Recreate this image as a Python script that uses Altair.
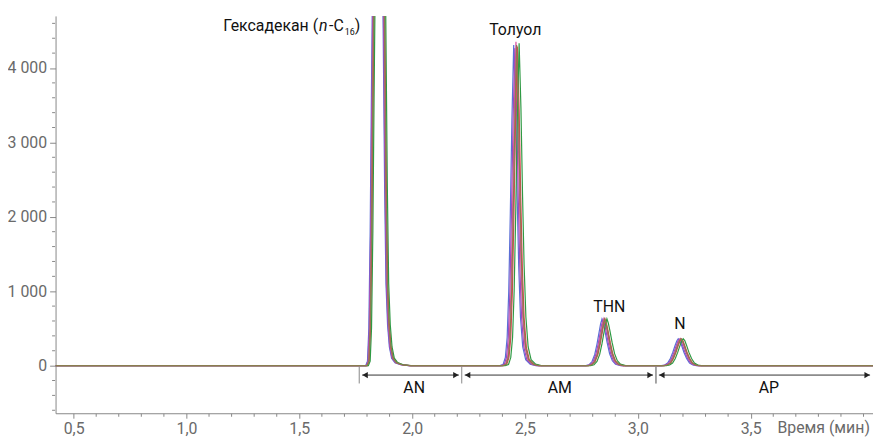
import altair as alt
import pandas as pd

# ---- axis ranges / ticks ----
x_domain = [0.42, 4.042]
y_domain = [-640, 4700]
x_major = [0.5, 1.0, 1.5, 2.0, 2.5, 3.0, 3.5]
x_minor = [0.6, 0.7, 0.8, 0.9, 1.1, 1.2, 1.3, 1.4, 1.6, 1.7, 1.8, 1.9,
           2.1, 2.2, 2.3, 2.4, 2.6, 2.7, 2.8, 2.9, 3.1, 3.2, 3.3, 3.4,
           3.6, 3.7, 3.8, 3.9, 4.0]
y_major = [0, 1000, 2000, 3000, 4000]
y_minor = [-600, -400, -200, 200, 400, 600, 800, 1200, 1400, 1600, 1800,
           2200, 2400, 2600, 2800, 3200, 3400, 3600, 3800, 4200, 4400, 4600]

# ---- single chromatogram (reference trace), one list pair per peak ----
baseline_t = [0.42, 4.06]
baseline_v = [0, 0]

hexa_t = [1.780, 1.800, 1.808, 1.814, 1.820, 1.825, 1.829, 1.838, 1.846, 1.853,
          1.860, 1.868, 1.877, 1.884, 1.890, 1.897, 1.905, 1.915, 1.930, 1.955, 1.990]
hexa_v = [0, 0, 60, 500, 1800, 3500, 4700, 12000, 22000, 28000,
          22000, 12000, 4700, 2400, 1100, 550, 250, 100, 40, 12, 0]

tol_t = [2.400, 2.415, 2.425, 2.433, 2.440, 2.447, 2.454, 2.462, 2.470, 2.477,
         2.484, 2.492, 2.502, 2.515, 2.535, 2.560]
tol_v = [0, 15, 110, 380, 1000, 2050, 3300, 4310, 3450, 2300,
         1350, 650, 250, 80, 20, 0]

thn_t = [2.780, 2.795, 2.808, 2.820, 2.830, 2.840, 2.846, 2.852, 2.858, 2.865,
         2.875, 2.886, 2.898, 2.912, 2.935]
thn_v = [0, 12, 55, 150, 290, 460, 560, 625, 570, 470, 310, 160, 65, 20, 0]

n_t = [3.115, 3.130, 3.143, 3.155, 3.166, 3.176, 3.184, 3.190, 3.197, 3.205,
       3.215, 3.227, 3.240, 3.255, 3.270]
n_v = [0, 8, 35, 95, 180, 270, 335, 360, 335, 270, 180, 95, 35, 8, 0]

# ---- overlaid runs: colour, retention-time shift of each peak, response ----
runs = ["r1", "r2", "r3", "r4", "r5", "r6"]
run_colors = ["#5b6fd6", "#9b4dbf", "#d9509f", "#e03c4c", "#2f9a44", "#8a7d4f"]
hexa_shift = [-0.006, -0.004, -0.001, 0.002, 0.006, 0.000]
tol_shift = [-0.012, -0.007, -0.002, 0.004, 0.012, 0.001]
thn_shift = [-0.011, -0.006, -0.002, 0.003, 0.011, 0.001]
n_shift = [-0.011, -0.006, -0.002, 0.003, 0.011, 0.001]
run_scale = [1.000, 0.990, 1.010, 0.995, 1.005, 1.000]

# ---- annotations ----
peak_labels = ["Толуол", "THN", "N"]
peak_label_t = [2.457, 2.874, 3.186]
peak_label_v = [4507, 785, 558]

hexa_parts = ["Гексадекан (", "n", "-C", "16", ")"]
hexa_part_t = [1.5833, 1.5877, 1.6316, 1.7018, 1.7457]
hexa_part_v = [4567, 4567, 4567, 4480, 4567]

region_labels = ["AN", "AM", "AP"]
region_label_t = [2.009, 2.654, 3.581]
region_start = [1.7655, 2.2198, 3.0803]
region_end = [2.2198, 3.0803, 4.042]
region_label_v = -307
arrow_v = -127
sep_top = -13
sep_bottom = -240

# ---- build tables ----
peak_sets = [(hexa_t, hexa_v, hexa_shift), (tol_t, tol_v, tol_shift),
             (thn_t, thn_v, thn_shift), (n_t, n_v, n_shift)]
rows = []
for i, (r, k) in enumerate(zip(runs, run_scale)):
    for t, v in zip(baseline_t, baseline_v):
        rows.append({"run": r, "t": t, "v": v})
    for pt, pv, ps in peak_sets:
        for t, v in zip(pt, pv):
            rows.append({"run": r, "t": t + ps[i], "v": v * k})
df = pd.DataFrame(rows).sort_values(["run", "t"])

FONT = "Roboto"
AX_COL = "#6a6a6a"
LINE_COL = "#888888"

x_axis = alt.Axis(
    values=x_major,
    labelExpr="replace(format(datum.value, '.1f'), '.', ',')",
    tickSize=5, labelOverlap=False, labelFlush=False, grid=False,
    labelFont=FONT, labelFontSize=16, labelColor=AX_COL, labelPadding=2,
    domainColor=LINE_COL, tickColor=LINE_COL,
    title="Время (мин)", titleFont=FONT, titleFontSize=16, titleFontWeight="normal",
    titleColor=AX_COL, titleX=728, titleY=6, titleAlign="left", titleBaseline="top",
)
y_axis = alt.Axis(
    values=y_major,
    labelExpr="replace(format(datum.value, ',d'), ',', ' ')",
    tickSize=6, labelOverlap=False, labelFlush=False, grid=False,
    labelFont=FONT, labelFontSize=16, labelColor=AX_COL, labelPadding=3,
    domainColor=LINE_COL, tickColor=LINE_COL, title=None,
)

xs = alt.Scale(domain=x_domain, nice=False, zero=False)
ys = alt.Scale(domain=y_domain, nice=False, zero=False)

lines = alt.Chart(df).mark_line(clip=True, strokeWidth=1.2).encode(
    x=alt.X("t:Q", scale=xs, axis=x_axis),
    y=alt.Y("v:Q", scale=ys, axis=y_axis),
    color=alt.Color("run:N", scale=alt.Scale(domain=runs, range=run_colors), legend=None),
)

# minor ticks
xminor_df = pd.DataFrame({"t": x_minor})
x_minor_ticks = alt.Chart(xminor_df).mark_tick(
    orient="vertical", size=3, thickness=1, color=LINE_COL, yOffset=2, opacity=1
).encode(x="t:Q", y=alt.datum(y_domain[0]))
yminor_df = pd.DataFrame({"v": y_minor})
y_minor_ticks = alt.Chart(yminor_df).mark_tick(
    orient="horizontal", size=3, thickness=1, color=LINE_COL, xOffset=-2, opacity=1
).encode(x=alt.datum(x_domain[0]), y="v:Q")

sep_df = pd.DataFrame({"t": region_start + [region_end[1]], "a": sep_top, "b": sep_bottom})
seps = alt.Chart(sep_df).mark_rule(color=LINE_COL, strokeWidth=1).encode(
    x="t:Q", y="a:Q", y2="b:Q")

arr_df = pd.DataFrame({"s": [v + 0.013 for v in region_start],
                       "e": [v - 0.013 for v in region_end], "y": arrow_v})
arrows = alt.Chart(arr_df).mark_rule(color="#333333", strokeWidth=1).encode(
    x="s:Q", x2="e:Q", y="y:Q")

lh_df = pd.DataFrame({"t": [v + 0.026 for v in region_start], "y": arrow_v})
rh_df = pd.DataFrame({"t": [v - 0.026 for v in region_end], "y": arrow_v})
left_heads = alt.Chart(lh_df).mark_point(shape="triangle-left", filled=True, size=40,
                                         color="#222222", opacity=1).encode(x="t:Q", y="y:Q")
right_heads = alt.Chart(rh_df).mark_point(shape="triangle-right", filled=True, size=40,
                                          color="#222222", opacity=1).encode(x="t:Q", y="y:Q")

reg_df = pd.DataFrame({"t": region_label_t, "v": region_label_v, "txt": region_labels})
reg_text = alt.Chart(reg_df).mark_text(font=FONT, fontSize=16, color="#111111").encode(
    x="t:Q", y="v:Q", text="txt:N")

pk_df = pd.DataFrame({"t": peak_label_t, "v": peak_label_v, "txt": peak_labels})
pk_text = alt.Chart(pk_df).mark_text(font=FONT, fontSize=16, color="#111111").encode(
    x="t:Q", y="v:Q", text="txt:N")

hp = pd.DataFrame({"t": hexa_part_t, "v": hexa_part_v, "txt": hexa_parts})
h0 = alt.Chart(hp.iloc[[0]]).mark_text(font=FONT, fontSize=16, color="#111111", align="right").encode(
    x="t:Q", y="v:Q", text="txt:N")
h1 = alt.Chart(hp.iloc[[1]]).mark_text(font=FONT, fontSize=16, color="#111111", align="left",
                                       fontStyle="italic").encode(x="t:Q", y="v:Q", text="txt:N")
h2 = alt.Chart(hp.iloc[[2, 4]]).mark_text(font=FONT, fontSize=16, color="#111111", align="left").encode(
    x="t:Q", y="v:Q", text="txt:N")
h3 = alt.Chart(hp.iloc[[3]]).mark_text(font=FONT, fontSize=9, color="#111111", align="left").encode(
    x="t:Q", y="v:Q", text="txt:N")

chart = alt.layer(
    lines, x_minor_ticks, y_minor_ticks, seps, arrows, left_heads, right_heads,
    reg_text, pk_text, h0, h1, h2, h3
).properties(
    width=825, height=401,
    autosize=alt.AutoSizeParams(type="none"),
    padding={"left": 48, "top": 6, "right": 0, "bottom": 23},
).configure_view(stroke=None)

chart.save("out.html", embed_options={"renderer": "svg", "actions": False})
